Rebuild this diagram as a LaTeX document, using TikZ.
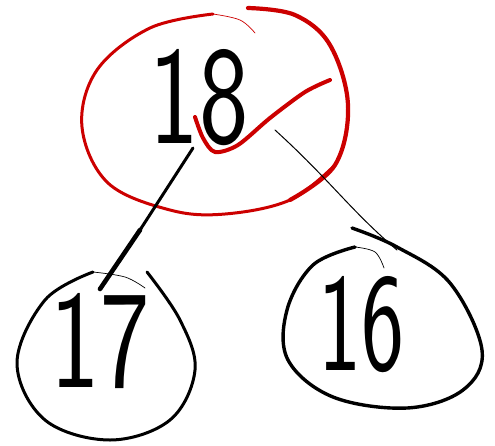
\documentclass[tikz,border=0pt]{standalone}
\begin{document}
\begin{tikzpicture}[x=1pt,y=-1pt,
  ink/.style={line cap=round,line join=round},
  digits/.style={font=\sffamily\fontsize{140}{140}\selectfont,inner sep=0pt,xscale=0.75},
  every node/.style={transform shape}]
\definecolor{penred}{HTML}{CC0000}
\useasboundingbox (0,0) rectangle (495,445);
% red loop around 18
\draw[ink,penred,line width=0.7pt] plot[smooth,tension=0.6] coordinates {(255,33) (240,20) (213,14)};
\draw[ink,penred,line width=3pt] plot[smooth,tension=0.6] coordinates {(213,14) (150,28) (97,70) (82,127) (108,183) (170,210) (225,214) (290,200) (335,165)};
\draw[ink,penred,line width=4.2pt] plot[smooth,tension=0.6] coordinates {(290,200) (335,165) (348,105) (330,45) (295,15) (248,8)};
% nodes
\node[digits] (n18) at (199,98) {18};
\node[digits] (n17) at (100,341) {17};
\node[digits,xscale=0.87] (n16) at (361,325) {16};
% check mark
\draw[ink,penred,line width=4pt] plot[smooth,tension=0.5] coordinates {(195,117) (203,138) (215,152) (238,145) (270,118) (305,92) (330,80)};
% circle 17
\draw[ink,line width=0.7pt] plot[smooth,tension=0.6] coordinates {(145,288) (125,277) (93,272)};
\draw[ink,line width=3pt] plot[smooth,tension=0.6] coordinates {(93,272) (45,300) (17,363) (45,420) (110,440) (170,420) (195,370) (180,320) (147,272)};
% circle 16
\draw[ink,line width=3.4pt] plot[smooth,tension=0.6] coordinates {(352,228) (397,247) (450,283) (482,350) (463,390) (407,408) (333,397) (288,360) (287,310) (313,265) (355,247)};
\draw[ink,line width=0.7pt] plot[smooth,tension=0.6] coordinates {(355,247) (375,252) (384,268)};
% connectors
\coordinate (a18) at (193,148);
\coordinate (b17) at (100,289);
\coordinate (c18) at (275,130);
\coordinate (d16) at (397,250);
\draw[ink,line width=3pt] (a18) -- (140,230);
\draw[ink,line width=4.6pt] (140,230) -- (b17);
\draw[ink,line width=1pt] (c18) .. controls (330,180) and (350,210) .. (d16);
\end{tikzpicture}
\end{document}
